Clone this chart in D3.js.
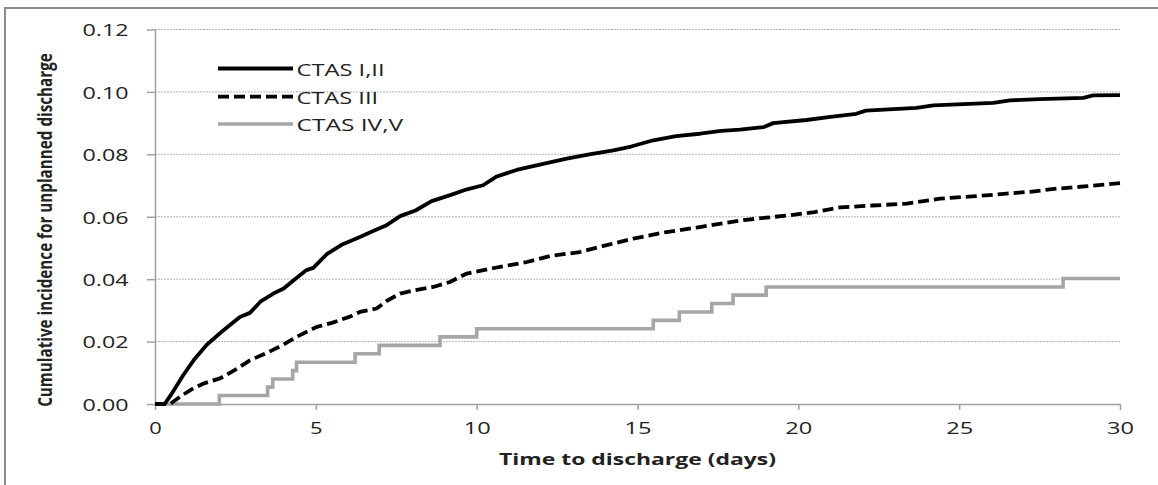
<!DOCTYPE html>
<html>
<head>
<meta charset="utf-8">
<script src="https://cdn.jsdelivr.net/npm/d3@7"></script>
<style>
  html, body { margin: 0; padding: 0; background: #fff; }
  svg { display: block; }
  text { font-family: "Open Sans", "DejaVu Sans", sans-serif; fill: #222; }
</style>
</head>
<body>
<svg id="chart" width="1158" height="485"></svg>
<script>
// Cumulative incidence of unplanned discharge by CTAS triage level
const seriesNames = ["CTAS I,II", "CTAS III", "CTAS IV,V"];

// CTAS I,II : [day, cumulative incidence]
const ctas12 = [
  [0,0],[0.3,0],[0.5,0.003],[0.88,0.0093],[1.2,0.014],[1.61,0.019],[2.0,0.0225],
  [2.33,0.0253],[2.64,0.0279],[2.95,0.0292],[3.3,0.033],[3.68,0.0354],[4.0,0.037],
  [4.35,0.040],[4.71,0.0429],[4.92,0.0436],[5.34,0.048],[5.8,0.051],[6.37,0.0535],
  [6.8,0.0555],[7.2,0.0573],[7.62,0.0602],[8.1,0.062],[8.6,0.065],[9.2,0.067],
  [9.7,0.0688],[10.2,0.0701],[10.6,0.0728],[11.24,0.075],[12.0,0.0768],[12.8,0.0786],
  [13.5,0.0800],[14.25,0.0813],[14.8,0.0825],[15.49,0.0845],[16.2,0.0858],[16.94,0.0866],
  [17.6,0.0875],[18.18,0.0879],[18.91,0.0887],[19.22,0.0900],[20.25,0.0910],[21.0,0.0920],
  [21.8,0.0930],[22.1,0.0940],[23.67,0.0949],[24.2,0.0957],[26.06,0.0965],[26.58,0.0973],
  [27.5,0.0977],[28.86,0.0981],[29.16,0.0989],[30,0.0990]
];

// CTAS III : [day, cumulative incidence]
const ctas3 = [
  [0,0],[0.47,0],[0.8,0.0025],[1.19,0.005],[1.55,0.0067],[2.02,0.0082],[2.5,0.011],
  [2.95,0.014],[3.5,0.0165],[3.99,0.019],[4.4,0.0215],[5.03,0.0247],[5.5,0.026],
  [6.06,0.028],[6.37,0.0295],[6.89,0.0306],[7.2,0.033],[7.62,0.0354],[8.1,0.0365],
  [8.65,0.0375],[9.17,0.0391],[9.69,0.0418],[10.5,0.0435],[11.56,0.0455],[12.28,0.0474],
  [13.21,0.0487],[14.04,0.0509],[14.87,0.053],[15.9,0.0551],[16.94,0.0567],[17.7,0.058],
  [18.29,0.0589],[19.0,0.0597],[19.74,0.0605],[20.5,0.0615],[21.3,0.063],[22.3,0.0636],
  [23.37,0.0642],[24.4,0.0658],[25.4,0.0665],[26.47,0.0674],[27.2,0.068],[28.03,0.069],
  [29.0,0.0698],[30,0.0708]
];

// CTAS IV,V : step function, value holds from each time until the next
const ctas45Times  = [0, 2.0, 3.5, 3.66, 4.28, 4.4, 6.22, 6.97, 8.86, 10.0, 15.49, 16.3, 17.31, 17.97, 19.0, 28.23, 30];
const ctas45Values = [0, 0.0027, 0.0054, 0.008, 0.0107, 0.0134, 0.0161, 0.0188, 0.0215, 0.0241, 0.0268, 0.0295, 0.0322, 0.0349, 0.0375, 0.0402, 0.0402];

const xTicks = [0, 5, 10, 15, 20, 25, 30];
const yTicks = [0, 0.02, 0.04, 0.06, 0.08, 0.10, 0.12];

const svg = d3.select("#chart");

// outer frame
svg.append("rect")
  .attr("x", 5).attr("y", 8).attr("width", 1200).attr("height", 600)
  .attr("fill", "none").attr("stroke", "#8c8c8c").attr("stroke-width", 2);

const x = d3.scaleLinear().domain([0, 30]).range([155, 1120]);
const y = d3.scaleLinear().domain([0, 0.12]).range([404, 29.5]);

// horizontal gridlines
svg.append("g").selectAll("line")
  .data(yTicks.filter(d => d > 0))
  .join("line")
  .attr("x1", x(0)).attr("x2", x(30))
  .attr("y1", d => y(d)).attr("y2", d => y(d))
  .attr("stroke", "#b4b4b4").attr("stroke-width", 1)
  .attr("stroke-dasharray", "2,1");

// y axis
const yAxis = svg.append("g")
  .attr("transform", `translate(${x(0)},0)`)
  .call(d3.axisLeft(y).tickValues(yTicks).tickFormat(d3.format(".2f"))
    .tickSize(8).tickSizeOuter(0).tickPadding(18.5));
yAxis.selectAll("path, line").attr("stroke", "#a0a0a0").attr("stroke-width", 1.5);
yAxis.selectAll("text")
  .attr("font-size", 16.5).attr("fill", "#1e1e1e")
  .attr("y", 1)
  .attr("textLength", 46).attr("lengthAdjust", "spacingAndGlyphs");

// x axis
const xAxis = svg.append("g")
  .attr("transform", `translate(0,${y(0)})`)
  .call(d3.axisBottom(x).tickValues(xTicks).tickFormat(d3.format("d"))
    .tickSize(6).tickSizeOuter(0));
xAxis.selectAll("path, line").attr("stroke", "#a0a0a0").attr("stroke-width", 1.5);
xAxis.selectAll("text")
  .attr("font-size", 16.5).attr("fill", "#1e1e1e")
  .attr("y", 24).attr("dy", "0.35em")
  .attr("textLength", d => String(d).length > 1 ? 27 : 12.5)
  .attr("lengthAdjust", "spacingAndGlyphs");

// axis titles
svg.append("text")
  .attr("x", (x(0) + x(30)) / 2).attr("y", 459).attr("dy", "0.35em")
  .attr("text-anchor", "middle")
  .attr("font-size", 16).attr("font-weight", "bold").attr("fill", "#111")
  .attr("textLength", 277).attr("lengthAdjust", "spacingAndGlyphs")
  .text("Time to discharge (days)");

// condensed vertical title: squeeze along its baseline to fit the plot height
const yTitle = svg.append("text")
  .attr("text-anchor", "middle")
  .attr("font-size", 20).attr("font-weight", "bold").attr("fill", "#111")
  .text("Cumulative incidence for unplanned discharge");
const natural = yTitle.node().getComputedTextLength();
yTitle.attr("transform", `translate(51.5,230) rotate(-90) scale(${354 / natural},1)`);

// series
const line = d3.line().x(d => x(d[0])).y(d => y(d[1]));
const stepLine = d3.line().x(d => x(d[0])).y(d => y(d[1])).curve(d3.curveStepAfter);
const ctas45 = ctas45Times.map((t, i) => [t, ctas45Values[i]]);

const styles = [
  { stroke: "#000", dash: null, width: 3.8 },
  { stroke: "#000", dash: "11,5", width: 3.8 },
  { stroke: "#a6a6a6", dash: null, width: 3.6 }
];

svg.append("path").datum(ctas45).attr("d", stepLine)
  .attr("fill", "none").attr("stroke", styles[2].stroke).attr("stroke-width", styles[2].width);
svg.append("path").datum(ctas3).attr("d", line)
  .attr("fill", "none").attr("stroke", styles[1].stroke).attr("stroke-width", styles[1].width)
  .attr("stroke-dasharray", styles[1].dash).attr("stroke-linejoin", "round");
svg.append("path").datum(ctas12).attr("d", line)
  .attr("fill", "none").attr("stroke", styles[0].stroke).attr("stroke-width", styles[0].width)
  .attr("stroke-linejoin", "round");

// legend
const legendY = [68.5, 96.7, 124];
const legendW = [88, 81.6, 106.7];
const legend = svg.append("g");
seriesNames.forEach((name, i) => {
  legend.append("line")
    .attr("x1", 218).attr("x2", 293)
    .attr("y1", legendY[i]).attr("y2", legendY[i])
    .attr("stroke", styles[i].stroke).attr("stroke-width", styles[i].width)
    .attr("stroke-dasharray", styles[i].dash);
  legend.append("text")
    .attr("x", 296.5).attr("y", legendY[i] + 1.5).attr("dy", "0.35em")
    .attr("font-size", 16.5).attr("fill", "#1e1e1e")
    .attr("textLength", legendW[i]).attr("lengthAdjust", "spacingAndGlyphs")
    .text(name);
});
</script>
</body>
</html>
